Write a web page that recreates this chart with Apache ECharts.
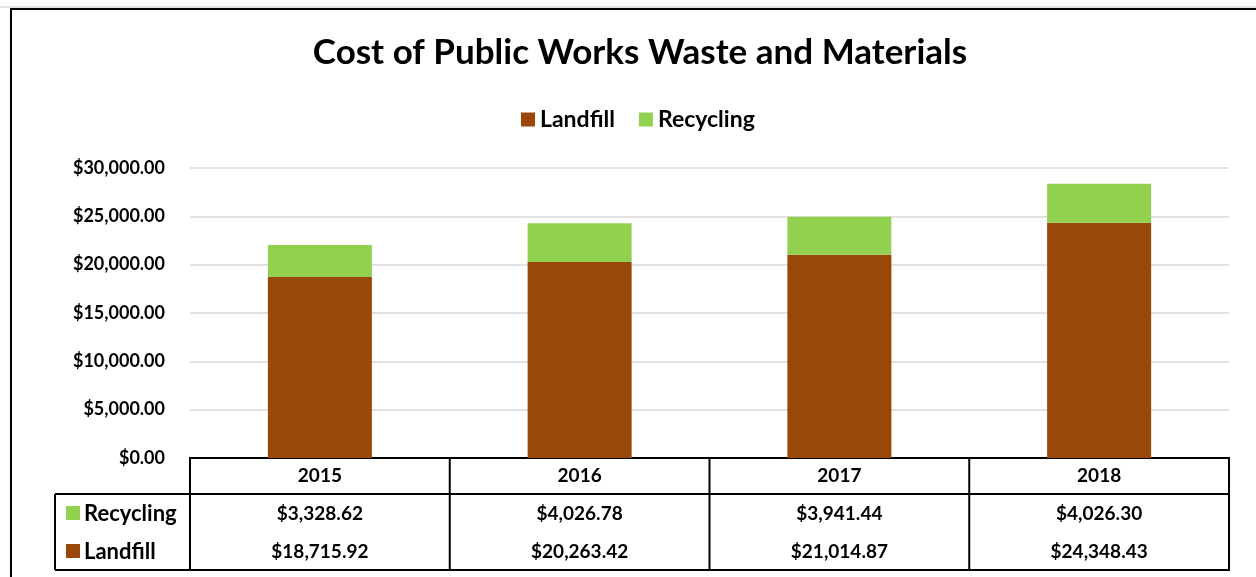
<!DOCTYPE html>
<html>
<head>
<meta charset="utf-8">
<script src="https://cdn.jsdelivr.net/npm/echarts@6/dist/echarts.min.js"></script>
<style>
  html, body { margin: 0; padding: 0; background: #fff; }
  #main { width: 1256px; height: 577px; }
</style>
</head>
<body>
<div id="main"></div>
<script>
var years = ['2015', '2016', '2017', '2018'];
var landfill = [18715.92, 20263.42, 21014.87, 24348.43];
var recycling = [3328.62, 4026.78, 3941.44, 4026.30];

var brown = '#9A470A';
var green = '#92D050';
var font = 'Lato';

function money(v) {
  return '$' + v.toLocaleString('en-US', { minimumFractionDigits: 2, maximumFractionDigits: 2 });
}

var myChart = echarts.init(document.getElementById('main'));

var gridLeft = 190, gridRight = 27, gridTop = 168, gridBottom = 119;
var tableLeft = 55;

function rowAxis(values, margin) {
  return {
    type: 'category',
    data: years,
    position: 'bottom',
    axisLine: { show: false },
    axisTick: { show: false },
    axisLabel: {
      margin: margin,
      fontFamily: font,
      fontWeight: 'bold',
      fontSize: 19,
      color: '#000',
      formatter: function (v, i) { return money(values[i]); }
    }
  };
}

var option = {
  animation: false,
  title: {
    text: 'Cost of Public Works Waste and Materials',
    left: 635,
    textAlign: 'center',
    top: 30,
    textStyle: { fontFamily: font, fontWeight: 'bold', fontSize: 35, color: '#000' }
  },
  legend: {
    top: 103,
    left: 516,
    itemWidth: 14,
    itemHeight: 14,
    itemGap: 24,
    icon: 'rect',
    data: ['Landfill', 'Recycling'],
    textStyle: { fontFamily: font, fontWeight: 'bold', fontSize: 23, color: '#000' }
  },
  grid: { left: gridLeft, right: gridRight, top: gridTop, bottom: gridBottom },
  xAxis: [
    {
      type: 'category',
      data: years,
      axisLine: { lineStyle: { color: '#000', width: 2 } },
      axisTick: { show: false },
      axisLabel: { margin: 8, fontFamily: font, fontWeight: 'bold', fontSize: 19, color: '#000' }
    },
    rowAxis(recycling, 46),
    rowAxis(landfill, 84)
  ],
  yAxis: {
    type: 'value',
    min: 0,
    max: 30000,
    interval: 5000,
    axisLine: { show: false },
    axisTick: { show: false },
    splitLine: { lineStyle: { color: '#d9d9d9', width: 1.5 } },
    axisLabel: {
      margin: 25,
      fontFamily: font,
      fontWeight: 'bold',
      fontSize: 18,
      color: '#000',
      formatter: function (v) { return money(v); }
    }
  },
  series: [
    {
      name: 'Landfill',
      type: 'bar',
      stack: 'cost',
      barWidth: 104,
      itemStyle: { color: brown },
      data: landfill
    },
    {
      name: 'Recycling',
      type: 'bar',
      stack: 'cost',
      barWidth: 104,
      itemStyle: { color: green },
      data: recycling
    }
  ]
};
myChart.setOption(option);

// frame and data table rules
var W = myChart.getWidth(), H = myChart.getHeight();
var axisY = H - gridBottom;
var tableRight = W - gridRight;
var row1 = axisY + 36, tableBottom = axisY + 112;
var lineStyle = { stroke: '#000', lineWidth: 2 };
var colW = (tableRight - gridLeft) / years.length;
var graphics = [
  { type: 'line', shape: { x1: 0, y1: 7, x2: W, y2: 7 }, style: { stroke: '#c8c8c8', lineWidth: 1 } },
  { type: 'rect', shape: { x: 11, y: 9, width: W + 20, height: H + 20 }, style: { fill: null, stroke: '#000', lineWidth: 2 } },
  { type: 'line', shape: { x1: tableLeft, y1: row1, x2: tableRight, y2: row1 }, style: lineStyle },
  { type: 'line', shape: { x1: tableLeft, y1: tableBottom, x2: tableRight, y2: tableBottom }, style: lineStyle },
  { type: 'line', shape: { x1: tableLeft, y1: row1, x2: tableLeft, y2: tableBottom }, style: lineStyle },
  { type: 'rect', shape: { x: 66, y: row1 + 12, width: 14, height: 14 }, style: { fill: green } },
  { type: 'text', x: 84, y: row1 + 20, style: { text: 'Recycling', fontFamily: font, fontWeight: 'bold', fontSize: 22, fill: '#000', verticalAlign: 'middle' } },
  { type: 'rect', shape: { x: 66, y: row1 + 50, width: 14, height: 14 }, style: { fill: brown } },
  { type: 'text', x: 84, y: row1 + 58, style: { text: 'Landfill', fontFamily: font, fontWeight: 'bold', fontSize: 22, fill: '#000', verticalAlign: 'middle' } }
];
for (var i = 0; i <= years.length; i++) {
  var x = gridLeft + i * colW;
  graphics.push({ type: 'line', shape: { x1: x, y1: axisY - 1, x2: x, y2: tableBottom + 1 }, style: lineStyle });
}
myChart.setOption({ graphic: graphics });
</script>
</body>
</html>
